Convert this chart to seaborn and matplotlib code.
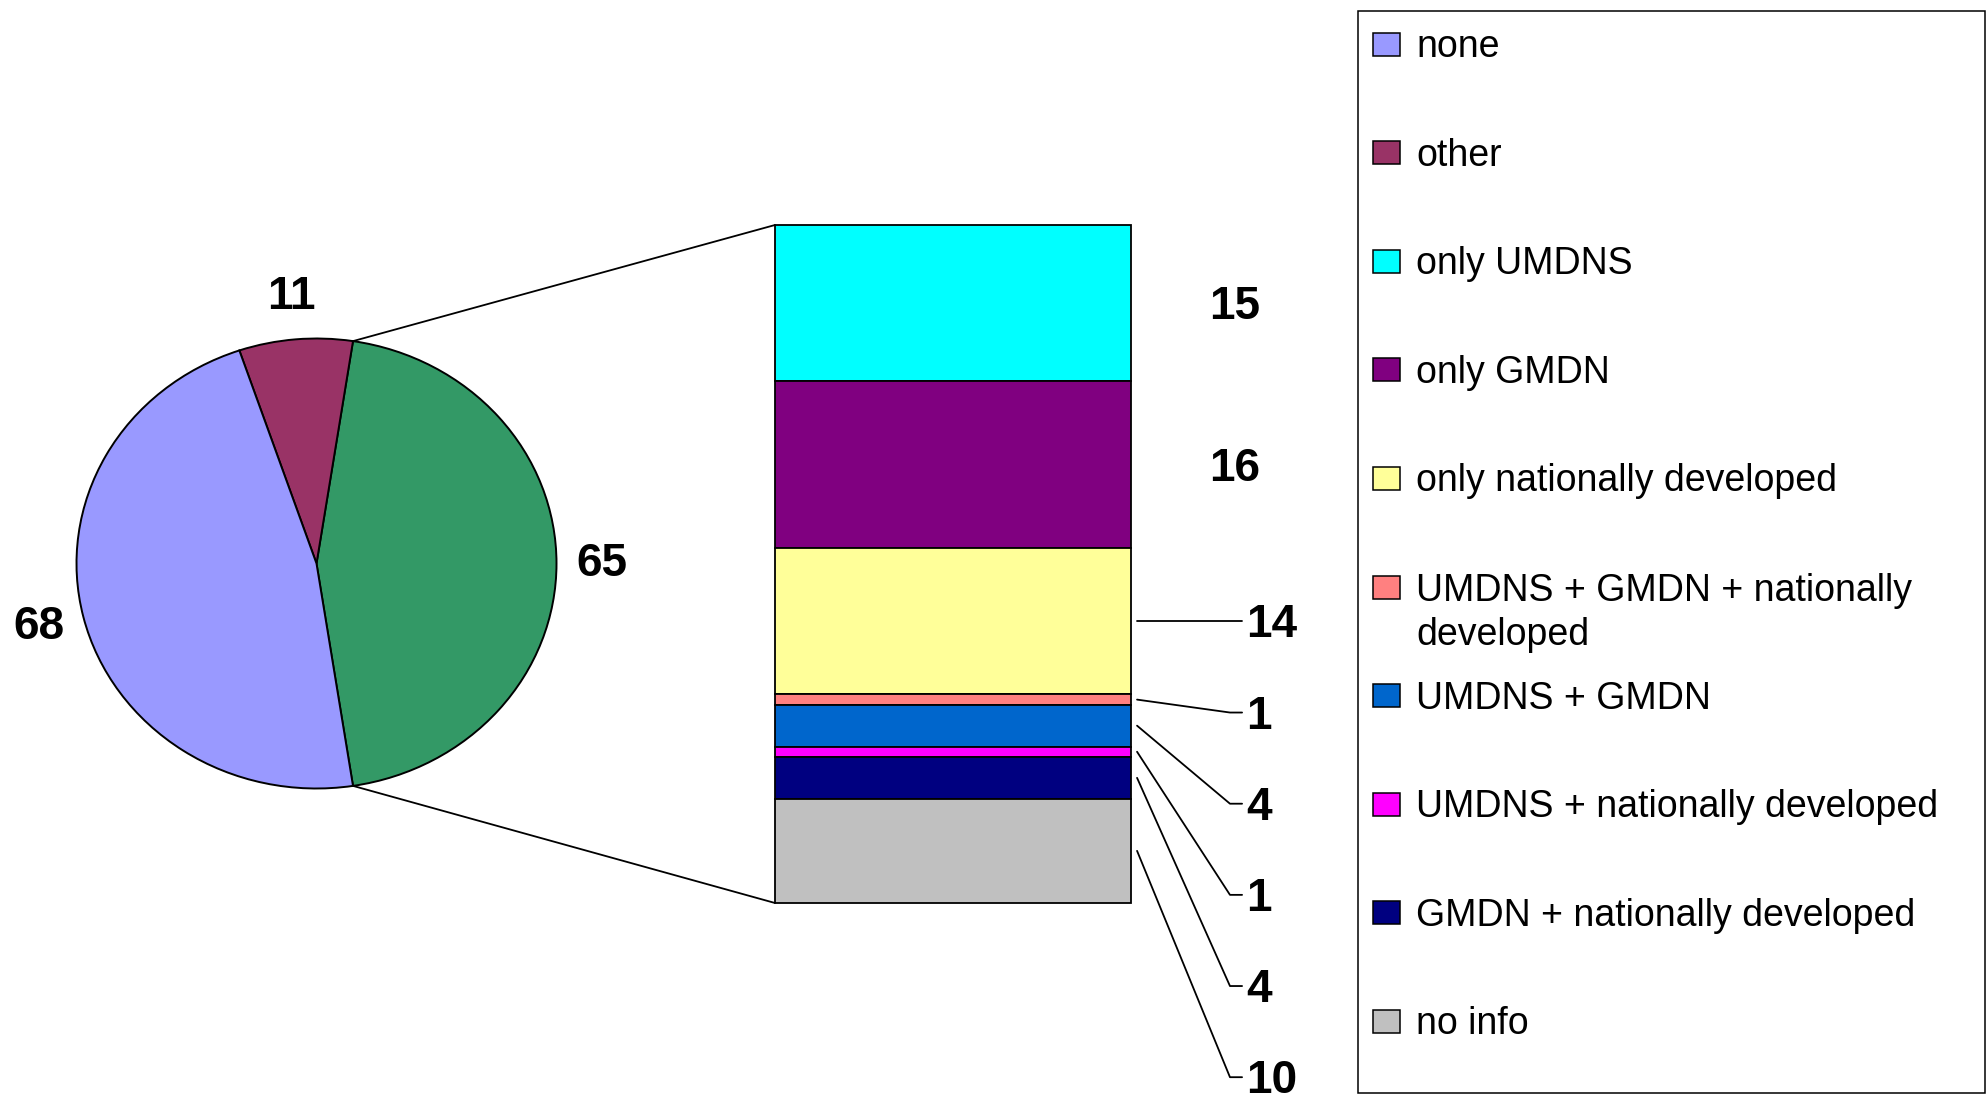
import numpy as np
import pandas as pd
import matplotlib
matplotlib.use("Agg")
import matplotlib.pyplot as plt
import matplotlib.transforms as mtransforms
from matplotlib.patches import Rectangle, ConnectionPatch
import seaborn as sns

# ---------------- data ----------------
# pie: first slice is the one that is broken out into the bar
pie_names = ["bar", "other", "none"]
pie_values = [65, 11, 68]
pie_colors = ["#339966", "#993366", "#9999FF"]

# bar segments, top -> bottom
bar_categories = ["only UMDNS", "only GMDN", "only nationally developed",
                  "UMDNS + GMDN + nationally developed", "UMDNS + GMDN",
                  "UMDNS + nationally developed", "GMDN + nationally developed",
                  "no info"]
bar_values = [15, 16, 14, 1, 4, 1, 4, 10]
bar_colors = ["#00FFFF", "#800080", "#FFFF99", "#FF8080",
              "#0066CC", "#FF00FF", "#000080", "#C0C0C0"]

legend_labels = ["none", "other", "only UMDNS", "only GMDN",
                 "only nationally developed",
                 "UMDNS + GMDN + nationally\ndeveloped", "UMDNS + GMDN",
                 "UMDNS + nationally developed", "GMDN + nationally developed",
                 "no info"]
legend_colors = ["#9999FF", "#993366"] + bar_colors

# ---------------- style ----------------
sns.set_theme(style="white")
plt.rcParams['font.family'] = ['Liberation Sans', 'DejaVu Sans']
plt.rcParams['text.color'] = 'black'

W, H = 1986, 1098
fig = plt.figure(figsize=(W / 100, H / 100), dpi=100)
fig.patch.set_facecolor("white")


def fr(left, top, w, h):
    return [left / W, 1 - (top + h) / H, w / W, h / H]


NUM_FS = 33
LEG_FS = 27
EDGE_LW = 1.4
LINE_LW = 1.3

# overlay for legend (drawn in pixel coords)
lax = fig.add_axes([0, 0, 1, 1])
lax.set_xlim(0, W)
lax.set_ylim(H, 0)
lax.axis("off")
lax.patch.set_alpha(0)

# ---------------- pie ----------------
cx, cy, rx, ry = 316.5, 563.5, 240, 225
pax = fig.add_axes(fr(cx - 1.25 * rx, cy - 1.25 * ry, 2.5 * rx, 2.5 * ry))
start = -pie_values[0] / sum(pie_values) * 180
wedges, texts = pax.pie(pie_values, colors=pie_colors, startangle=start,
                        counterclock=True,
                        labels=[str(v) for v in pie_values], labeldistance=1.19,
                        wedgeprops=dict(edgecolor="black", linewidth=EDGE_LW),
                        textprops=dict(fontsize=NUM_FS, fontweight="bold",
                                       color="black"))
for t in texts:
    t.set_ha("center")
    t.set_va("center")
pax.set_aspect("auto")
pax.set_xlim(-1.25, 1.25)
pax.set_ylim(-1.25, 1.25)
pax.axis("off")

# ---------------- stacked bar ----------------
bx0, bx1, by0, by1 = 775, 1131, 225, 903
bax = fig.add_axes(fr(bx0, by0, bx1 - bx0, by1 - by0))
vals = np.array(bar_values, dtype=float)
bottoms = (np.cumsum(vals[::-1]) - vals[::-1])[::-1]
df = pd.DataFrame({"category": bar_categories, "value": vals,
                   "bottom": bottoms, "color": bar_colors})
for _, row in df.iterrows():
    sns.barplot(x=["pie-of-bar"], y=[row["value"]], bottom=row["bottom"],
                color=row["color"], saturation=1, width=1, errorbar=None,
                edgecolor="black", linewidth=1.3, ax=bax)
bax.set_xlim(-0.5, 0.5)
bax.set_ylim(0, vals.sum())
bax.axis("off")
for p in bax.patches:
    p.set_clip_on(False)

trans = mtransforms.blended_transform_factory(bax.transAxes, bax.transData)
ttrans = mtransforms.offset_copy(trans, fig=fig, y=-4, units="dots")
centers = bottoms + vals / 2
start_y = centers[2]
step = 8.74
for i, v in enumerate(bar_values):
    if i < 2:
        bax.text(1.292, centers[i], str(v), transform=ttrans, ha="center",
                 va="center", fontsize=NUM_FS, fontweight="bold", color="black")
    else:
        ly = start_y - step * (i - 2)
        bax.plot([1.017, 1.278, 1.312], [centers[i], ly, ly], transform=trans,
                 color="black", lw=LINE_LW, clip_on=False)
        bax.text(1.323, ly, str(v), transform=ttrans, ha="left", va="center",
                 fontsize=NUM_FS, fontweight="bold", color="black")

# connectors pie -> bar
t2 = np.deg2rad(wedges[0].theta2)
t1 = np.deg2rad(wedges[0].theta1)
for ang, ytop in [(t2, vals.sum()), (t1, 0)]:
    con = ConnectionPatch(xyA=(np.cos(ang), np.sin(ang)), coordsA=pax.transData,
                          xyB=(-0.5, ytop), coordsB=bax.transData,
                          color="black", lw=LINE_LW)
    fig.add_artist(con)

# ---------------- legend ----------------
lax.add_patch(Rectangle((1358, 11), 1985 - 1358, 1093 - 11, fill=False,
                        edgecolor="black", lw=1.1))
line_px = 45
for k, (lab, col) in enumerate(zip(legend_labels, legend_colors)):
    yc = 44 + 108.6 * k
    lax.add_patch(Rectangle((1373, yc - 11.5), 27, 23, facecolor=col,
                            edgecolor="black", lw=1.1))
    n_extra = lab.count("\n")
    # va='baseline' anchors the last line, so push down by the extra lines
    lax.text(1416, yc + 13 + n_extra * line_px, lab, fontsize=LEG_FS,
             ha="left", va="baseline", linespacing=1.30, color="black")

fig.savefig("out.png", dpi=100, facecolor="white")
